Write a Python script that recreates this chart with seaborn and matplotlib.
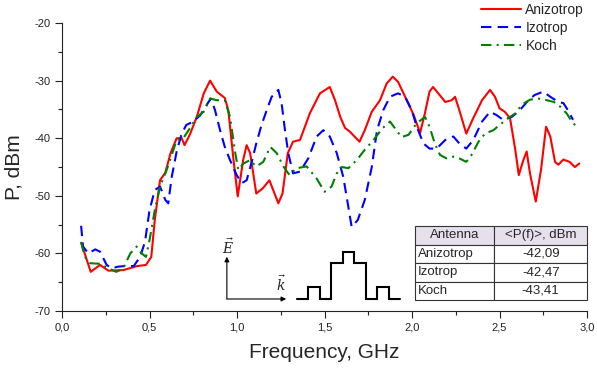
import numpy as np
import pandas as pd
import matplotlib
matplotlib.use("Agg")
import matplotlib.pyplot as plt
import seaborn as sns
from matplotlib.ticker import MultipleLocator, FuncFormatter

# ---------------- data ----------------
aniz_f = [0.11, 0.164, 0.217, 0.265, 0.35, 0.43, 0.48, 0.51, 0.53, 0.56, 0.59, 0.62, 0.655, 0.684, 0.70,
          0.73, 0.77, 0.81, 0.846, 0.884, 0.93, 0.95, 0.98, 1.004, 1.035, 1.055, 1.075, 1.11, 1.147, 1.185,
          1.236, 1.26, 1.29, 1.32, 1.36, 1.417, 1.474, 1.53, 1.56, 1.59, 1.617, 1.646, 1.70, 1.73, 1.77,
          1.817, 1.855, 1.89, 1.92, 1.97, 2.01, 2.046, 2.074, 2.10, 2.12, 2.15, 2.19, 2.227, 2.246, 2.27,
          2.31, 2.35, 2.40, 2.446, 2.474, 2.50, 2.53, 2.56, 2.59, 2.61, 2.636, 2.655, 2.674, 2.707, 2.737,
          2.766, 2.79, 2.817, 2.836, 2.865, 2.90, 2.93, 2.956]
aniz_p = [-58.2, -63.2, -62.0, -63.0, -62.9, -62.2, -62.0, -60.6, -54.2, -47.3, -46.0, -42.6, -40.0, -40.0, -41.2,
          -39.4, -36.3, -32.2, -30.0, -31.9, -33.0, -35.1, -43.8, -50.1, -43.8, -41.2, -42.6, -49.6, -48.7, -47.3,
          -51.3, -49.6, -42.6, -40.6, -40.3, -35.6, -32.2, -31.1, -33.4, -36.3, -38.2, -38.9, -40.6, -38.6, -35.4,
          -33.4, -30.5, -29.3, -30.2, -33.4, -36.0, -39.1, -35.6, -31.9, -31.1, -32.2, -33.7, -33.4, -32.8, -35.1,
          -39.2, -36.5, -33.4, -31.6, -32.8, -34.8, -35.4, -36.5, -42.0, -46.4, -43.8, -42.3, -46.1, -51.0, -45.5,
          -38.0, -39.7, -44.1, -44.6, -43.7, -44.1, -45.0, -44.4]

izo_f = [0.109, 0.12, 0.15, 0.19, 0.217, 0.255, 0.284, 0.32, 0.36, 0.41, 0.446, 0.474, 0.50, 0.53, 0.56,
         0.59, 0.607, 0.627, 0.655, 0.684, 0.71, 0.75, 0.79, 0.827, 0.85, 0.874, 0.903, 0.93, 0.96, 0.998,
         1.027, 1.055, 1.084, 1.11, 1.14, 1.17, 1.198, 1.236, 1.255, 1.274, 1.293, 1.32, 1.36, 1.407, 1.455,
         1.493, 1.53, 1.57, 1.607, 1.636, 1.655, 1.69, 1.73, 1.77, 1.80, 1.836, 1.874, 1.92, 1.96, 1.998,
         2.027, 2.065, 2.10, 2.14, 2.19, 2.236, 2.27, 2.31, 2.35, 2.40, 2.446, 2.484, 2.52, 2.57, 2.617,
         2.665, 2.70, 2.75, 2.79, 2.836, 2.865, 2.89, 2.92]
izo_p = [-55.2, -58.8, -60.0, -59.3, -59.7, -62.0, -62.6, -62.3, -62.2, -62.2, -60.6, -58.0, -52.5, -49.0, -48.4,
         -50.7, -51.3, -46.7, -42.3, -39.2, -37.7, -37.1, -36.0, -34.2, -33.1, -35.1, -38.6, -41.5, -43.8, -46.4,
         -47.8, -47.3, -44.1, -40.9, -37.7, -35.1, -32.8, -31.6, -34.0, -38.6, -42.6, -46.1, -45.8, -43.5, -39.7,
         -38.6, -39.7, -42.6, -46.7, -51.9, -55.4, -54.2, -50.7, -45.0, -38.6, -35.1, -32.8, -32.2, -32.8, -35.1,
         -38.0, -40.9, -41.8, -41.8, -40.3, -39.7, -40.9, -41.8, -40.3, -37.1, -35.4, -36.0, -36.8, -36.3, -35.1,
         -33.4, -32.5, -31.9, -32.8, -33.7, -33.9, -35.1, -36.8]

koch_f = [0.109, 0.13, 0.16, 0.217, 0.265, 0.31, 0.35, 0.39, 0.427, 0.455, 0.48, 0.50, 0.53, 0.56, 0.598,
          0.627, 0.655, 0.693, 0.73, 0.77, 0.81, 0.846, 0.884, 0.93, 0.96, 0.99, 1.007, 1.036, 1.074, 1.11,
          1.15, 1.19, 1.227, 1.265, 1.30, 1.34, 1.398, 1.455, 1.50, 1.54, 1.57, 1.60, 1.636, 1.684, 1.73,
          1.78, 1.83, 1.874, 1.91, 1.94, 1.98, 2.027, 2.074, 2.10, 2.13, 2.16, 2.197, 2.236, 2.27, 2.31,
          2.34, 2.38, 2.417, 2.465, 2.50, 2.55, 2.59, 2.627, 2.674, 2.72, 2.77, 2.81, 2.846, 2.884, 2.913,
          2.94]
koch_p = [-58.0, -60.6, -61.7, -61.8, -62.6, -63.2, -62.6, -60.0, -58.8, -60.0, -60.6, -57.7, -52.5, -48.4, -45.5,
          -42.9, -40.3, -40.0, -38.3, -36.3, -35.4, -33.1, -33.4, -33.4, -36.3, -42.6, -45.5, -44.4, -43.8, -44.9,
          -44.1, -41.5, -42.6, -44.9, -46.4, -45.2, -44.9, -47.0, -49.3, -48.4, -46.1, -45.0, -45.2, -43.8, -42.0,
          -40.3, -38.3, -37.1, -38.6, -39.8, -39.4, -37.4, -36.3, -38.0, -40.9, -42.9, -43.5, -43.2, -43.5, -44.1,
          -42.9, -40.6, -39.2, -38.6, -37.7, -36.5, -35.7, -34.2, -33.3, -33.1, -33.4, -33.7, -34.5, -35.7, -37.1,
          -38.0]

series_names = ["Anizotrop", "Izotrop", "Koch"]
table_header = ["Antenna", "<P(f)>, dBm"]
table_rows = [["Anizotrop", "-42,09"], ["Izotrop", "-42,47"], ["Koch", "-43,41"]]

# ---------------- figure ----------------
sns.set_theme(style="white")
plt.rcParams["font.family"] = ["Liberation Sans", "DejaVu Sans"]

df = pd.concat([
    pd.DataFrame({"f": aniz_f, "P": aniz_p, "Antenna": series_names[0]}),
    pd.DataFrame({"f": izo_f, "P": izo_p, "Antenna": series_names[1]}),
    pd.DataFrame({"f": koch_f, "P": koch_p, "Antenna": series_names[2]}),
], ignore_index=True)

fig = plt.figure(figsize=(5.97, 3.72), dpi=100)
ax = fig.add_axes([0.1039, 0.164, 0.8794, 0.774])

palette = {"Anizotrop": "#ff0000", "Izotrop": "#0000ff", "Koch": "#008000"}
dashes = {"Anizotrop": "", "Izotrop": (5, 3), "Koch": (5, 2.5, 1, 2.5)}
sns.lineplot(data=df, x="f", y="P", hue="Antenna", style="Antenna", palette=palette,
             dashes=dashes, sort=False, estimator=None, linewidth=1.5, ax=ax)

ax.set_xlim(0, 3.0)
ax.set_ylim(-70, -20)
ax.xaxis.set_major_locator(MultipleLocator(0.5))
ax.xaxis.set_minor_locator(MultipleLocator(0.25))
ax.yaxis.set_major_locator(MultipleLocator(10))
ax.yaxis.set_minor_locator(MultipleLocator(5))
ax.xaxis.set_major_formatter(FuncFormatter(lambda v, p: f"{v:.1f}".replace(".", ",")))
ax.yaxis.set_major_formatter(FuncFormatter(lambda v, p: f"{v:.0f}"))
ax.tick_params(which="major", direction="out", length=5, width=0.8, colors="#222222",
               labelsize=8, labelcolor="#222222", bottom=True, left=True, pad=3)
ax.tick_params(which="minor", direction="out", length=3, width=0.8, colors="#222222",
               bottom=True, left=True)
for s in ["top", "right"]:
    ax.spines[s].set_visible(False)
for s in ["left", "bottom"]:
    ax.spines[s].set_color("#222222")
    ax.spines[s].set_linewidth(0.8)

ax.set_xlabel("Frequency, GHz", fontsize=15, labelpad=8)
ax.set_ylabel("P, dBm", fontsize=15, labelpad=8)
ax.grid(False)

handles, labels = ax.get_legend_handles_labels()
ax.legend(handles, labels, loc="upper left", bbox_to_anchor=(481 / 597, 1 - 3 / 372),
          bbox_transform=fig.transFigure, frameon=False, fontsize=10, handlelength=2.9,
          handletextpad=0.3, labelspacing=0.3, borderpad=0, borderaxespad=0)

# ---------------- table ----------------
tbl = ax.table(cellText=table_rows, colLabels=table_header, cellLoc="center",
               colWidths=[0.462 * 0.328, 0.538 * 0.328],
               bbox=[0.672, 0.038, 0.328, 0.257])
tbl.auto_set_font_size(False)
tbl.set_fontsize(9.5)
for (r, c), cell in tbl.get_celld().items():
    cell.set_edgecolor("#333333")
    cell.set_linewidth(0.8)
    if r == 0:
        cell.set_facecolor("#e6e0ec")
    else:
        cell.set_facecolor("white")
        if c == 0:
            cell.PAD = 0.04
            cell.get_text().set_horizontalalignment("left")

# ---------------- inset sketch (axes fraction) ----------------
tr = ax.transAxes
ax.annotate("", xy=(0.314, 0.1885), xytext=(0.314, 0.0417), xycoords=tr, textcoords=tr,
            arrowprops=dict(arrowstyle="-|>", color="black", lw=0.8, mutation_scale=7, shrinkA=0, shrinkB=0))
ax.annotate("", xy=(0.427, 0.0417), xytext=(0.314, 0.0417), xycoords=tr, textcoords=tr,
            arrowprops=dict(arrowstyle="-|>", color="black", lw=0.8, mutation_scale=7, shrinkA=0, shrinkB=0))
ax.text(0.316, 0.222, r"$\vec{E}$", transform=tr, ha="center", va="center", fontsize=10,
        family="DejaVu Serif", math_fontfamily="dejavuserif")
ax.text(0.418, 0.093, r"$\vec{k}$", transform=tr, ha="center", va="center", fontsize=10,
        family="DejaVu Serif", math_fontfamily="dejavuserif")
sx = [0.447, 0.469, 0.469, 0.491, 0.491, 0.512, 0.512, 0.535, 0.535, 0.557, 0.557, 0.579, 0.579,
      0.599, 0.599, 0.623, 0.623, 0.644]
b, l1, l2, l3 = 0.0417, 0.0823, 0.1656, 0.2038
sy = [b, b, l1, l1, b, b, l2, l2, l3, l3, l2, l2, b, b, l1, l1, b, b]
ax.plot(sx, sy, color="black", lw=1.5, transform=tr, clip_on=False, solid_joinstyle="miter")

fig.savefig("out.png", dpi=100)
